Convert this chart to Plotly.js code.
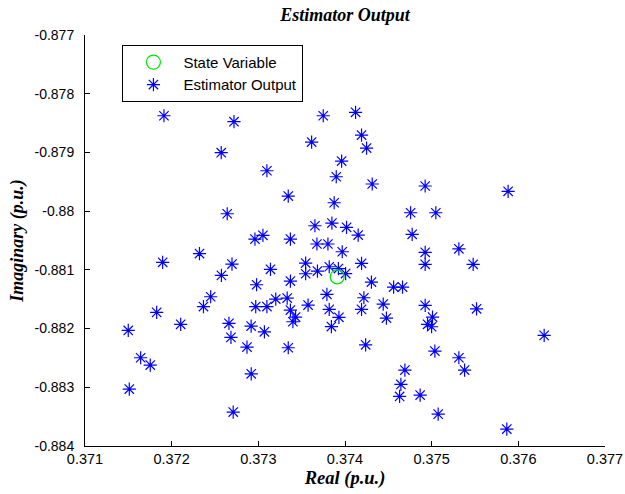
<!DOCTYPE html>
<html>
<head>
<meta charset="utf-8">
<script src="https://cdn.plot.ly/plotly-3.0.1.min.js"></script>
<style>html,body{margin:0;padding:0;background:#fff;}#chart{width:625px;height:494px;}</style>
</head>
<body>
<div id="chart"></div>
<script>
// State variable (true value)
const stateReal = [0.37391];
const stateImag = [-0.881118];

// Estimator output samples
const estReal = [
0.371911,0.372719,0.373749,0.372572,0.373615,0.373961,0.373099,0.373899,0.373345,0.373875,
0.372641,0.373653,0.373849,0.374018,0.374122,0.374191,0.374249,0.374314,0.374925,0.375882,
0.374757,0.375048,0.374152,0.374775,0.372961,0.373053,0.37337,0.373676,0.373803,0.373968,
0.372321,0.371896,0.372696,0.373546,0.37314,0.373682,0.373818,0.373924,0.374007,0.372574,
0.373546,0.37337,0.37298,0.373791,0.37245,0.373201,0.373333,0.371827,0.372367,0.37297,
0.373099,0.373574,0.37337,0.37343,0.373399,0.373818,0.37393,0.373843,0.372104,0.372661,
0.372917,0.37307,0.371499,0.372684,0.372869,0.373345,0.371642,0.371753,0.372918,0.371511,
0.37271,0.374925,0.375314,0.374191,0.374925,0.375479,0.374305,0.374561,0.374664,0.374218,
0.374441,0.374191,0.374925,0.375518,0.374478,0.37501,0.374953,0.374999,0.376298,0.374238,
0.375037,0.375314,0.37538,0.374691,0.374645,0.37463,0.374867,0.375075,0.375867
];
const estImag = [
-0.878375,-0.878477,-0.878375,-0.879005,-0.878823,-0.879147,-0.879312,-0.879414,-0.879743,-0.879857,
-0.880044,-0.880249,-0.880203,-0.880276,-0.878317,-0.878704,-0.878925,-0.879538,-0.879572,-0.879663,
-0.880027,-0.880027,-0.880407,-0.880395,-0.880475,-0.880412,-0.880475,-0.88056,-0.88056,-0.880692,
-0.880722,-0.880872,-0.880901,-0.880884,-0.880991,-0.88102,-0.880947,-0.880978,-0.881063,-0.881094,
-0.881066,-0.881191,-0.881254,-0.881416,-0.881458,-0.881497,-0.88148,-0.881724,-0.881625,-0.881625,
-0.881625,-0.8816,-0.881685,-0.881804,-0.881884,-0.881673,-0.881809,-0.881966,-0.881928,-0.881911,
-0.881957,-0.882055,-0.882031,-0.88215,-0.882315,-0.882327,-0.882497,-0.882622,-0.88277,-0.883031,
-0.883422,-0.880702,-0.880641,-0.880889,-0.880906,-0.880906,-0.881208,-0.881293,-0.881293,-0.881475,
-0.881583,-0.881673,-0.881605,-0.881663,-0.881821,-0.881804,-0.881928,-0.881969,-0.882116,-0.882276,
-0.882383,-0.882497,-0.882707,-0.882707,-0.882951,-0.883155,-0.883133,-0.883457,-0.883712
];

const xTickVals = [0.371,0.372,0.373,0.374,0.375,0.376,0.377];
const xTickText = ["0.371","0.372","0.373","0.374","0.375","0.376","0.377"];
const yTickVals = [-0.877,-0.878,-0.879,-0.88,-0.881,-0.882,-0.883,-0.884];
const yTickText = ["-0.877","-0.878","-0.879","-0.88","-0.881","-0.882","-0.883","-0.884"];

const serif = "Liberation Serif, Times New Roman, serif";
const sans = "Liberation Sans, Arial, sans-serif";

const traces = [
  {
    x: estReal, y: estImag, type: 'scatter', mode: 'markers',
    name: 'Estimator Output', legendrank: 2,
    marker: {symbol: 'asterisk-open', size: 11, color: 'rgb(0,0,255)',
             line: {color: 'rgb(0,0,255)', width: 1.2}}
  },
  {
    x: stateReal, y: stateImag, type: 'scatter', mode: 'markers',
    name: 'State Variable', legendrank: 1,
    marker: {symbol: 'circle-open', size: 14, color: 'rgb(0,230,0)',
             line: {color: 'rgb(0,230,0)', width: 1.2}}
  }
];

const layout = {
  width: 625, height: 494,
  margin: {l: 85, r: 20, t: 35, b: 48, pad: 0},
  paper_bgcolor: '#fff', plot_bgcolor: '#fff',
  title: {text: '<b><i>Estimator Output</i></b>', font: {family: serif, size: 18, color: '#000'},
          x: 0.552, xanchor: 'center', y: 0.983, yanchor: 'top'},
  xaxis: {
    range: [0.371, 0.377], tickvals: xTickVals, ticktext: xTickText,
    showgrid: false, zeroline: false, showline: true, linecolor: '#000', linewidth: 1,
    ticks: 'inside', ticklen: 5, tickcolor: '#000', mirror: false,
    tickfont: {family: sans, size: 14.5, color: '#000'},
    title: {text: '<b><i>Real (p.u.)</i></b>', font: {family: serif, size: 18.5, color: '#000'}, standoff: 4}
  },
  yaxis: {
    range: [-0.884, -0.877], tickvals: yTickVals, ticktext: yTickText,
    showgrid: false, zeroline: false, showline: true, linecolor: '#000', linewidth: 1,
    ticks: 'inside', ticklen: 5, tickcolor: '#000', mirror: false,
    tickfont: {family: sans, size: 14, color: '#000'}, ticklabelstandoff: 7,
    title: {text: '<b><i>Imaginary (p.u.)</i></b>', font: {family: serif, size: 18, color: '#000'}, standoff: 6}
  },
  showlegend: true,
  legend: {
    x: 0.072, y: 0.976, xanchor: 'left', yanchor: 'top',
    bgcolor: '#fff', bordercolor: '#000', borderwidth: 1,
    font: {family: sans, size: 15, color: '#000'},
    itemwidth: 50, tracegroupgap: 0
  }
};

Plotly.newPlot('chart', traces, layout, {staticPlot: true, displayModeBar: false});
</script>
</body>
</html>
